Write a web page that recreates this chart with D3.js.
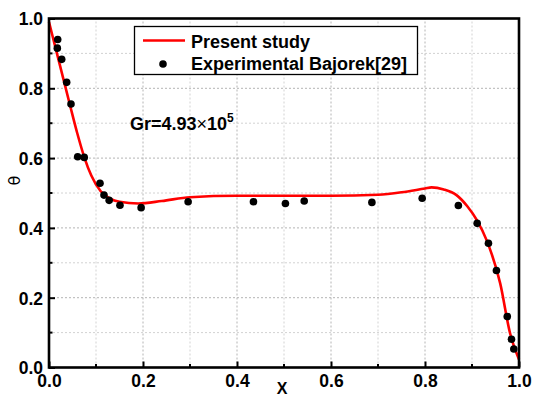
<!DOCTYPE html>
<html>
<head>
<meta charset="utf-8">
<script src="https://cdn.jsdelivr.net/npm/d3@7"></script>
<style>
  html, body { margin: 0; padding: 0; background: #fff; }
  svg { display: block; font-family: "Liberation Sans", Arial, sans-serif; }
</style>
</head>
<body>
<svg id="chart" width="533" height="398"></svg>
<script>
// Numerical solution (Present study), sampled along X
const modelX = [0, 0.015, 0.03, 0.045, 0.06, 0.075, 0.09, 0.11, 0.13, 0.15, 0.19, 0.24, 0.30, 0.40, 0.50, 0.60, 0.70, 0.75, 0.80, 0.814, 0.84, 0.867, 0.89, 0.91, 0.931, 0.96, 0.981, 1.0];
const modelTheta = [0.99, 0.91, 0.83, 0.75, 0.672, 0.603, 0.55, 0.505, 0.484, 0.475, 0.470, 0.477, 0.488, 0.492, 0.492, 0.492, 0.495, 0.502, 0.513, 0.516, 0.510, 0.494, 0.462, 0.423, 0.365, 0.241, 0.098, 0.023];

// Experimental data, Bajorek [29]
const expX = [0.0185, 0.0177, 0.027, 0.0376, 0.0468, 0.061, 0.075, 0.1085, 0.117, 0.128, 0.151, 0.196, 0.296, 0.435, 0.503, 0.543, 0.687, 0.794, 0.871, 0.911, 0.935, 0.952, 0.975, 0.984, 0.989];
const expTheta = [0.940, 0.915, 0.883, 0.817, 0.755, 0.604, 0.602, 0.528, 0.494, 0.479, 0.465, 0.458, 0.475, 0.475, 0.470, 0.477, 0.473, 0.485, 0.464, 0.413, 0.356, 0.278, 0.146, 0.081, 0.053];

const majorTicks = [0, 0.2, 0.4, 0.6, 0.8, 1.0];
const minorTicks = [0.1, 0.3, 0.5, 0.7, 0.9];
const legendLabels = ["Present study", "Experimental Bajorek[29]"];

const svg = d3.select("#chart");
const margin = { left: 49, right: 14, top: 18.5, bottom: 30.5 };
const W = 533, H = 398;

const x = d3.scaleLinear().domain([0, 1]).range([margin.left, W - margin.right]);
const y = d3.scaleLinear().domain([0, 1]).range([H - margin.bottom, margin.top]);

// Dashed grid at every 0.1
const gridVals = majorTicks.concat(minorTicks).filter(v => v > 0 && v < 1);
const gridColor = d => minorTicks.includes(d) ? "#d2d2d2" : "#b4b4b4";
const grid = svg.append("g");
grid.selectAll("line.gx").data(gridVals).join("line")
  .attr("x1", d => x(d)).attr("x2", d => x(d))
  .attr("y1", y(0)).attr("y2", y(1))
  .attr("stroke", gridColor)
  .attr("stroke-width", 1)
  .attr("stroke-dasharray", "2,2");
grid.selectAll("line.gy").data(gridVals).join("line")
  .attr("y1", d => y(d)).attr("y2", d => y(d))
  .attr("x1", x(0)).attr("x2", x(1))
  .attr("stroke", gridColor)
  .attr("stroke-width", 1)
  .attr("stroke-dasharray", "2,2");

// Model curve
const line = d3.line()
  .x((d, i) => x(modelX[i]))
  .y((d, i) => y(modelTheta[i]))
  .curve(d3.curveMonotoneX);
svg.append("path")
  .datum(modelX)
  .attr("d", line)
  .attr("fill", "none")
  .attr("stroke", "#ff0000")
  .attr("stroke-width", 2.6);

// Experimental points
svg.append("g").selectAll("circle").data(expX).join("circle")
  .attr("cx", (d, i) => x(expX[i]))
  .attr("cy", (d, i) => y(expTheta[i]))
  .attr("r", 3.8)
  .attr("fill", "#000");

// Axes with inward ticks
const fmt = d3.format(".1f");
const xAxis = d3.axisBottom(x).tickValues(majorTicks).tickSize(-6).tickPadding(12).tickFormat(fmt);
const yAxis = d3.axisLeft(y).tickValues(majorTicks).tickSize(-6).tickPadding(6).tickFormat(fmt);

const gx = svg.append("g").attr("transform", `translate(0,${y(0)})`).call(xAxis);
const gy = svg.append("g").attr("transform", `translate(${x(0)},0)`).call(yAxis);
[gx, gy].forEach(g => {
  g.select(".domain").remove();
  g.selectAll(".tick line").attr("stroke", "#000").attr("stroke-width", 2);
  g.selectAll(".tick text")
    .attr("fill", "#000")
    .style("font-size", "17.5px")
    .style("font-weight", "bold")
    .style("font-family", "'Liberation Sans', Arial, sans-serif");
});
gx.selectAll(".tick text").attr("dy", "0.71em").attr("y", 7);
gy.selectAll(".tick text").attr("dy", "0.36em");

// Minor ticks
svg.append("g").selectAll("line").data(minorTicks).join("line")
  .attr("x1", d => x(d)).attr("x2", d => x(d))
  .attr("y1", y(0)).attr("y2", y(0) - 3.5)
  .attr("stroke", "#000").attr("stroke-width", 2);
svg.append("g").selectAll("line").data(minorTicks).join("line")
  .attr("y1", d => y(d)).attr("y2", d => y(d))
  .attr("x1", x(0)).attr("x2", x(0) + 3.5)
  .attr("stroke", "#000").attr("stroke-width", 2);

// Frame
svg.append("rect")
  .attr("x", x(0)).attr("y", y(1))
  .attr("width", x(1) - x(0)).attr("height", y(0) - y(1))
  .attr("fill", "none").attr("stroke", "#000").attr("stroke-width", 2.6);

// Axis titles
svg.append("text")
  .attr("x", (x(0) + x(1)) / 2 - 2).attr("y", 393.5)
  .attr("text-anchor", "middle")
  .style("font-size", "16px").style("font-weight", "bold")
  .text("X");
svg.append("text")
  .attr("transform", `translate(20,180.5) rotate(-90)`)
  .attr("text-anchor", "middle")
  .style("font-size", "16px")
  .style("font-family", "'DejaVu Sans', sans-serif")
  .text("θ");

// Annotation
const ann = svg.append("text")
  .attr("x", 130).attr("y", 130)
  .style("font-size", "18px").style("font-weight", "bold");
ann.append("tspan").text("Gr=4.93");
ann.append("tspan").style("font-weight", "normal").text("×");
ann.append("tspan").text("10");
ann.append("tspan").attr("dy", -8).style("font-size", "12px").text("5");

// Legend
const lg = svg.append("g");
lg.append("rect")
  .attr("x", 134.5).attr("y", 26.5).attr("width", 283).attr("height", 48)
  .attr("fill", "#fff").attr("stroke", "#000").attr("stroke-width", 1.3);
lg.append("line")
  .attr("x1", 143).attr("x2", 185).attr("y1", 40.5).attr("y2", 40.5)
  .attr("stroke", "#ff0000").attr("stroke-width", 2.6);
lg.append("circle").attr("cx", 163).attr("cy", 64).attr("r", 3.8).attr("fill", "#000");
lg.selectAll("text").data(legendLabels).join("text")
  .attr("x", 191).attr("y", (d, i) => 47.5 + i * 22.5)
  .style("font-size", "18px").style("font-weight", "bold")
  .text(d => d);
</script>
</body>
</html>
